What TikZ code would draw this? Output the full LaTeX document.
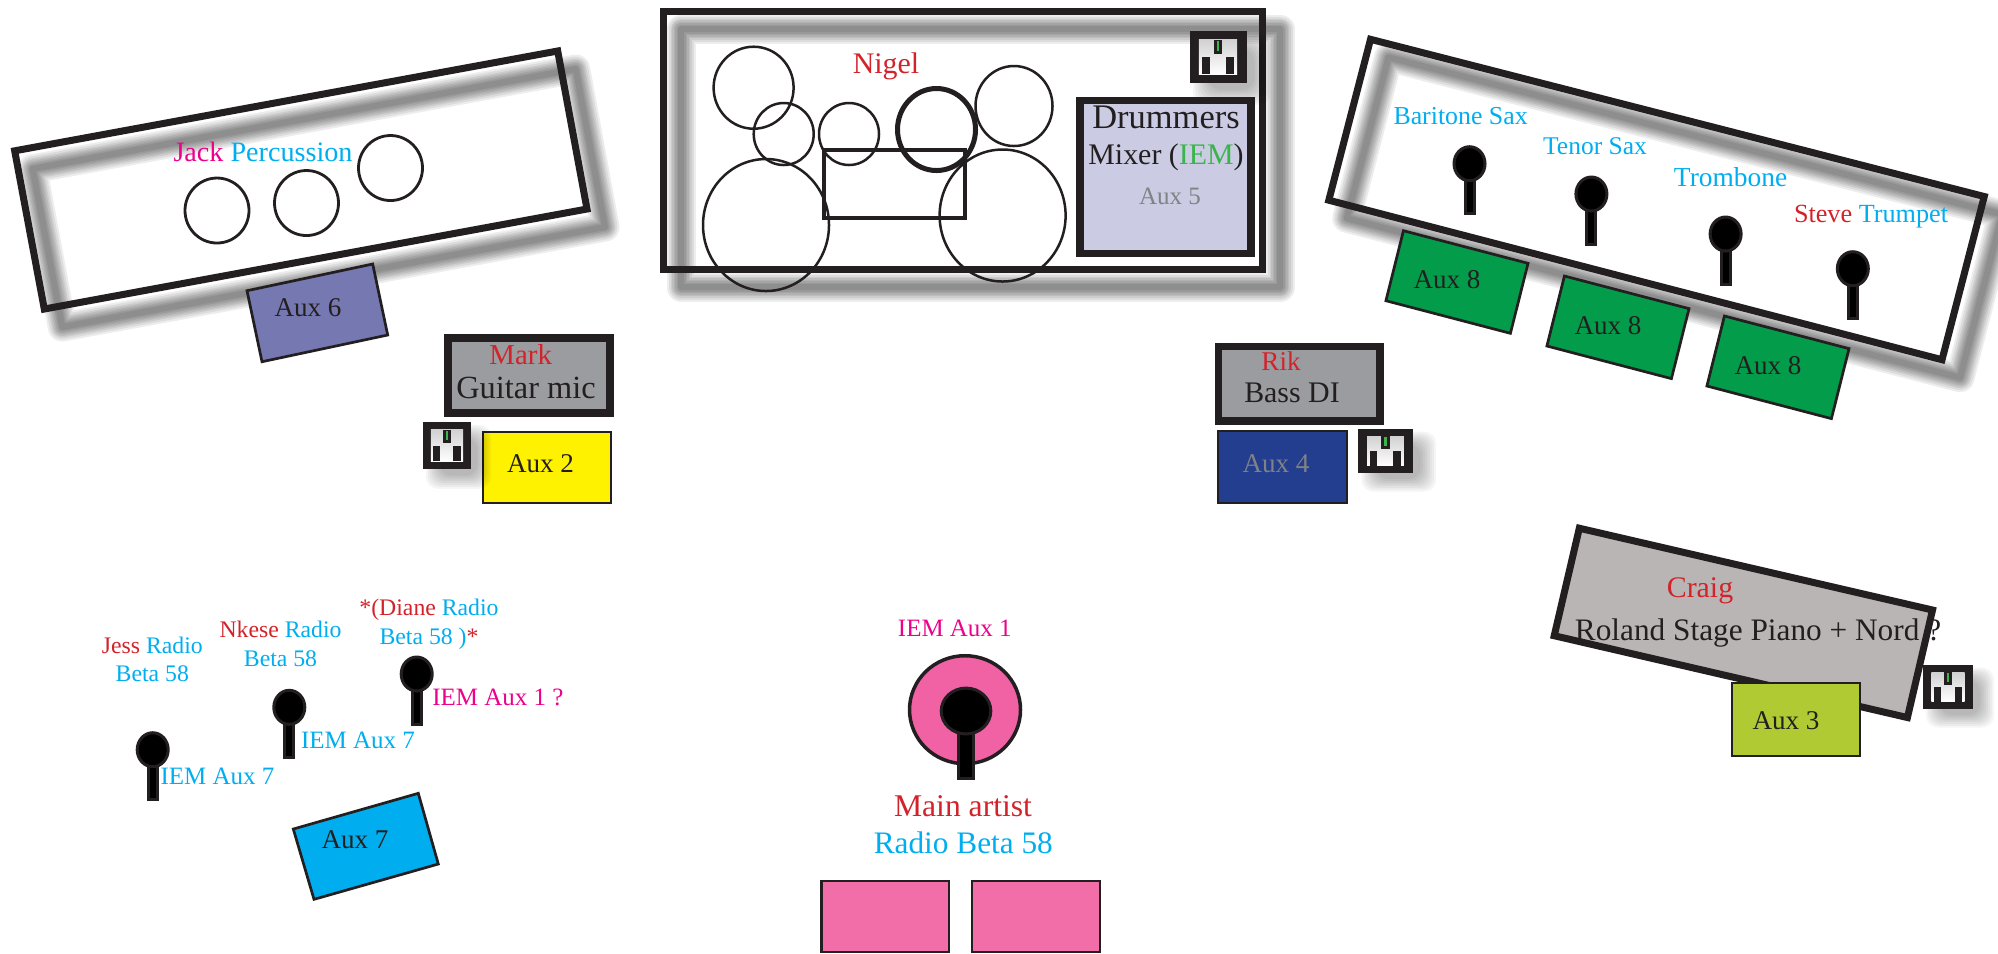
\documentclass[tikz,border=0pt]{standalone}
\usepackage{fontspec}
\setmainfont{Liberation Serif}
\usetikzlibrary{calc, positioning}

\definecolor{ink}{HTML}{231F20}
\definecolor{namered}{HTML}{D2232A}
\definecolor{micblue}{HTML}{00AEEF}
\definecolor{iempink}{HTML}{EC008C}
\definecolor{iemgreen}{HTML}{39B54A}
\definecolor{faintgray}{HTML}{808285}
\definecolor{ampgray}{HTML}{9B9CA0}
\definecolor{mixerlilac}{HTML}{CBCCE3}
\definecolor{auxviolet}{HTML}{7678B2}
\definecolor{auxnavy}{HTML}{233E8E}
\definecolor{auxgreen}{HTML}{039C4B}
\definecolor{auxlime}{HTML}{AFCA33}
\definecolor{auxyellow}{HTML}{FFF200}
\definecolor{keysgray}{HTML}{BAB5B5}
\definecolor{ringpink}{HTML}{F162A5}
\definecolor{wedgepink}{HTML}{F26EA8}

\tikzset{
  riser/.style={draw=ink, line width=0.7mm, line join=miter},
  riserblur/.style={draw=black, opacity=0.07, line join=round},
  drum/.style={draw=ink, line width=0.25mm},
  auxbox/.style={draw=ink, line width=0.27mm, line join=miter},
  ampbox/.style={draw=ink, line width=0.75mm, fill=ampgray},
  txtxl/.style={inner sep=0, text=ink, font=\fontsize{9.8pt}{11pt}\selectfont},
  txtl/.style={inner sep=0, text=ink, font=\fontsize{9pt}{11pt}\selectfont},
  txtm/.style={inner sep=0, text=ink, font=\fontsize{8.5pt}{10pt}\selectfont},
  txts/.style={inner sep=0, text=ink, font=\fontsize{7.7pt}{9pt}\selectfont},
  txtxs/.style={inner sep=0, text=micblue, align=center, font=\fontsize{7.1pt}{8.15pt}\selectfont},
  txtsinger/.style={txtxs, font=\fontsize{6.75pt}{8.15pt}\selectfont},
  mic/.pic={
    \draw[draw=ink, fill=black, line width=0.3mm] (-4.5,12) rectangle (4.5,50);
    \draw[draw=ink, fill=black, line width=0.3mm] (0,0) ellipse (15.5 and 17);
  },
  plugbox/.pic={
    \foreach \g in {9,7,5,3,1,-1,-3,-5}
      \fill[black, opacity=0.04, rounded corners=1.2mm] (-25-\g+12,-25-\g+12) rectangle (25+\g+12,25+\g+12);
    \fill[ink] (-25,-25) rectangle (25,25);
    \shade[top color=black!18, bottom color=white] (-16.7,-16.7) rectangle (16.7,16.7);
    \fill[ink] (-14.4,0.4) rectangle (-7.4,16.7);
    \fill[ink] (6.7,0.4) rectangle (14.4,16.7);
    \fill[ink] (-3.9,-16.7) rectangle (3.9,-2.5);
    \fill[iemgreen] (-1,-15.5) rectangle (1,-6);
  }
}

\newcommand{\blurline}[1]{\foreach \w in {2.9,2.5,2.1,1.8,1.5,1.2,0.9,0.6} \draw[riserblur, line width=\w mm] #1;}

\begin{document}
\begin{tikzpicture}[x=0.01cm, y=-0.01cm]
\def\jackpath{(14.7,150.8) -- (557.7,51) -- (587,209) -- (44.3,309) -- cycle}
\def\drumpath{(663,11) -- (1262,11) -- (1262,269) -- (663,269) -- cycle}
\def\hornpath{(1370.5,39.3) -- (1984.2,196.5) -- (1942,359.7) -- (1328.8,200.2) -- cycle}
\useasboundingbox (0,0) rectangle (1998,953);

\begin{scope}[shift={(18,18)}]
  \blurline{\jackpath}
  \blurline{\drumpath}
  \blurline{\hornpath}
\end{scope}

\draw[riser] \jackpath;
\foreach \cx/\cy in {217/210.5, 306.5/203, 390.5/168}
  \draw[drum, line width=0.28mm] (\cx,\cy) ellipse (32 and 32.5);
\node[txtl, font=\fontsize{8pt}{10pt}\selectfont] (jack) at (263,152) {\textcolor{iempink}{Jack} \textcolor{micblue}{Percussion}};
\draw[auxbox, fill=auxviolet] (247,290.7) -- (372.7,264) -- (387.7,335) -- (262,361.7) -- cycle;
\node[txts] (auxsix) at (308,308) {Aux 6};

\draw[riser] \drumpath;
\draw[drum] (753.6,87.7) ellipse (40 and 41);
\draw[drum] (783.7,134) ellipse (30 and 31);
\draw[drum] (849,134) ellipse (30 and 31);
\draw[drum] (1014,106) ellipse (38.5 and 40);
\draw[drum] (766,225) ellipse (63 and 66);
\draw[drum] (1002.6,215.5) ellipse (63 and 66);
\draw[ink, line width=0.45mm] (824,150) rectangle (965,218);
\draw[ink, line width=0.5mm] (936.5,129.5) ellipse (39 and 41);
\node[txtm, text=namered] (nigel) at (886,66) {Nigel};
\pic at (1218,57) [xscale=1.14, yscale=1.04] {plugbox};
\draw[ampbox, fill=mixerlilac] (1080,100.5) rectangle (1251,253.5);
\node[txtxl] (drummers) at (1166,117) {Drummers};
\node[txtm] (mixer) at (1166,157) {Mixer (\textcolor{iemgreen}{IEM})};
\node[txtxs, text=faintgray] (auxfive) at (1170,196) {Aux 5};

\draw[riser] \hornpath;
\foreach \mx/\my/\nm in {1469.5/163.7/a, 1591.4/194/b, 1725.6/234/c, 1852.8/268.7/d}
  \pic (hornmic\nm) at (\mx,\my) {mic};
\node[txts, font=\fontsize{7.35pt}{9pt}\selectfont, text=micblue] (bari) at (1460.6,116) {Baritone Sax};
\node[txts, font=\fontsize{7.25pt}{9pt}\selectfont, text=micblue] (tenor) at (1595,145.7) {Tenor Sax};
\node[txts, font=\fontsize{7.8pt}{9pt}\selectfont, text=micblue] (trombone) at (1730.6,176.7) {Trombone};
\node[txts, font=\fontsize{7.45pt}{9pt}\selectfont] (steve) at (1871,216.7) {\textcolor{namered}{Steve} \textcolor{micblue}{Trumpet}};
\foreach \bx/\by/\nm in {0/0/a, 161/45.3/b, 321/85.3/c} {
  \draw[auxbox, fill=auxgreen] ($(1403.4,230.7)+(\bx,\by)$) -- ($(1528,263.3)+(\bx,\by)$)
    -- ($(1510.4,333.3)+(\bx,\by)$) -- ($(1385.9,300.7)+(\bx,\by)$) -- cycle;
  \node[txts] (auxeight\nm) at ($(1447,280)+(\bx,\by)$) {Aux 8};
}

\draw[ampbox] (448,338) rectangle (610,413);
\node[txtm, text=namered, font=\fontsize{8.2pt}{10pt}\selectfont] (mark) at (520.7,355) {Mark};
\node[txtl, font=\fontsize{9.2pt}{11pt}\selectfont] (guitar) at (526,388) {Guitar mic};
\draw[auxbox, fill=auxyellow] (483,432) rectangle (611,503);
\node[txts] (auxtwo) at (540.5,464) {Aux 2};
\pic at (447,445.5) [xscale=0.96, yscale=0.94] {plugbox};

\draw[ampbox] (1218.5,346.5) rectangle (1380,421);
\node[txts, text=namered] (rik) at (1281,361) {Rik};
\node[txtm] (bass) at (1292,392.7) {Bass DI};
\draw[auxbox, fill=auxnavy] (1218,431) rectangle (1347,503);
\node[txts, text=faintgray] (auxfour) at (1276,464) {Aux 4};
\pic at (1385.5,451) [xscale=1.1, yscale=0.88] {plugbox};

\draw[riser, fill=keysgray] (1579.3,528.2) -- (1932.5,610) -- (1907.4,717.5) -- (1554.2,635.7) -- cycle;
\node[txtm, text=namered] (craig) at (1700,591) {Craig};
\node[txtm, font=\fontsize{8.9pt}{10pt}\selectfont] (roland) at (1758,632.5) {Roland Stage Piano + Nord ?};
\draw[auxbox, fill=auxlime] (1732,683) rectangle (1860,756);
\node[txts] (auxthree) at (1786,720.7) {Aux 3};
\pic at (1948,687) [xscale=1, yscale=0.88] {plugbox};

\foreach \mx/\my/\nm in {152.7/749.7/a, 289.3/707.3/b, 416.7/674/c}
  \pic (vocmic\nm) at (\mx,\my) {mic};
\node[txtsinger] (jess) at (152.3,659.5) {\textcolor{namered}{Jess} Radio\\Beta 58};
\node[txtsinger] (nkese) at (280.5,644) {\textcolor{namered}{Nkese} Radio\\Beta 58};
\node[txtsinger] (diane) at (429,624) {\textcolor{namered}{*(Diane} Radio\\Beta 58 )\textcolor{namered}{*}};
\node[txtxs, text=iempink] (iemq) at (497.8,697.3) {IEM Aux 1 ?};
\node[txtxs] (iemb) at (358,740) {IEM Aux 7};
\node[txtxs] (iema) at (217.5,776.7) {IEM Aux 7};
\draw[auxbox, fill=micblue] (293.3,829) -- (418.3,793.3) -- (438.3,864) -- (314,899.3) -- cycle;
\node[txts] (auxseven) at (355,840) {Aux 7};

\node[txtxs, text=iempink] (iemmain) at (954.8,628) {IEM Aux 1};
\draw[ink, line width=0.35mm, fill=ringpink] (965,709.7) ellipse (55.5 and 54);
\pic (mainmic) at (966,711) [xscale=1.6, yscale=1.35] {mic};
\node[txtl, text=namered] (main) at (963,806) {Main artist};
\node[txtl, text=micblue, font=\fontsize{8.9pt}{10pt}\selectfont] (radio) at (963.3,843) {Radio Beta 58};
\draw[auxbox, fill=wedgepink] (821.5,881) rectangle (949,952);
\draw[auxbox, fill=wedgepink] (972,881) rectangle (1100,952);
\end{tikzpicture}
\end{document}
